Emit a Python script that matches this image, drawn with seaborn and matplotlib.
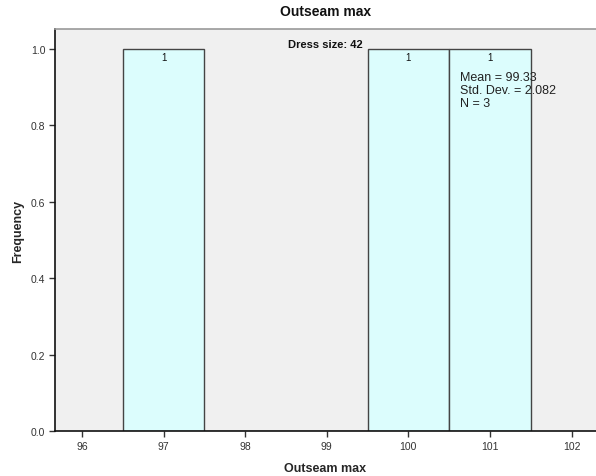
import matplotlib
matplotlib.use("Agg")
import matplotlib.pyplot as plt
import seaborn as sns
import numpy as np
import pandas as pd

# Outseam max observations for dress size 42
outseam = [97, 100, 101]
bin_edges = [96.5, 97.5, 98.5, 99.5, 100.5, 101.5]
x_ticks = [96, 97, 98, 99, 100, 101, 102]
y_ticks = [0.0, 0.2, 0.4, 0.6, 0.8, 1.0]

df = pd.DataFrame({"Outseam max": outseam})

sns.set_style("white")
plt.rcParams["font.family"] = ["Liberation Sans", "DejaVu Sans"]

fig = plt.figure(figsize=(5.96, 4.77), dpi=100)
ax = fig.add_axes([55 / 596, 45 / 477, 1 - 55 / 596, (432 - 30) / 477])
ax.set_facecolor("#f0f0f0")

sns.histplot(data=df, x="Outseam max", bins=bin_edges, ax=ax,
             color="#dcfdfd", edgecolor="#444444", linewidth=1.0, alpha=1.0)

# count labels on top of each non-empty bar
counts, _ = np.histogram(outseam, bins=bin_edges)
for left, right, c in zip(bin_edges[:-1], bin_edges[1:], counts):
    if c > 0:
        ax.text((left + right) / 2, c - 0.008, f"{c}", ha="center", va="top",
                fontsize=7, color="#111111")

ax.set_xlim(95.67, 102.3)
ax.set_ylim(0, 1.052)
ax.set_xticks(x_ticks)
ax.set_xticklabels([str(t) for t in x_ticks])
ax.set_yticks(y_ticks)
ax.set_yticklabels([f"{t:.1f}" for t in y_ticks])
ax.tick_params(axis="both", labelsize=7.5, length=4, width=1, color="#333333",
               labelcolor="#333333", direction="out", pad=3)
ax.tick_params(left=True, bottom=True)

for side in ["left", "bottom"]:
    ax.spines[side].set_color("#111111")
    ax.spines[side].set_linewidth(1.2)
ax.spines["top"].set_color("#999999")
ax.spines["top"].set_linewidth(1.2)
ax.spines["right"].set_visible(False)

ax.set_xlabel("Outseam max", fontsize=9, fontweight="bold", labelpad=8)
ax.set_ylabel("Frequency", fontsize=9, fontweight="bold", labelpad=5)

ax.text(0.5, 0.963, "Dress size: 42", transform=ax.transAxes, ha="center",
        va="center", fontsize=8, fontweight="bold", color="#111111")

mean = np.mean(outseam)
sd = np.std(outseam, ddof=1)
ax.text(100.63, 0.942,
        f"Mean = {mean:.2f}\nStd. Dev. = {sd:.3f}\nN = {len(outseam)}",
        ha="left", va="top", fontsize=9, color="#222222", linespacing=1.12)

fig.text((55 + 596) / 2 / 596, 1 - 12 / 477, "Outseam max", ha="center",
         va="center", fontsize=10, fontweight="bold", color="#111111")

fig.savefig("out.png", dpi=100, facecolor="white")
